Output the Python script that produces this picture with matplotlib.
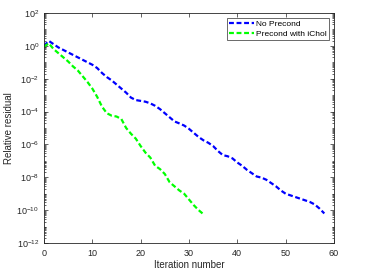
import numpy as np
import matplotlib
matplotlib.use("Agg")
import matplotlib.pyplot as plt
from matplotlib.ticker import LogLocator, FixedLocator, NullFormatter

# log10 of relative residual per iteration
blue_log = [0.0, 0.3, 0.1, -0.1, -0.25, -0.4, -0.55, -0.7, -0.85, -1.0,
            -1.15, -1.35, -1.65, -1.9, -2.1, -2.35, -2.6, -2.85, -3.15, -3.3,
            -3.35, -3.4, -3.5, -3.65, -3.85, -4.1, -4.35, -4.6, -4.72, -4.85,
            -5.05, -5.3, -5.55, -5.75, -5.9, -6.1, -6.4, -6.65, -6.72, -6.85,
            -7.1, -7.3, -7.55, -7.75, -7.95, -8.02, -8.15, -8.35, -8.55, -8.8,
            -9.0, -9.1, -9.2, -9.3, -9.4, -9.5, -9.65, -9.9, -10.2]
green_log = [-0.05, 0.15, -0.2, -0.45, -0.7, -0.95, -1.25, -1.5, -1.85, -2.2,
             -2.6, -3.1, -3.7, -4.1, -4.25, -4.3, -4.45, -5.0, -5.35, -5.65,
             -6.1, -6.5, -6.8, -7.3, -7.5, -7.8, -8.3, -8.55, -8.8, -9.0,
             -9.35, -9.7, -10.0, -10.25]
labels = ["No Precond", "Precond with iChol"]
x_ticks = [0, 10, 20, 30, 40, 50, 60]
y_ticks = [1e2, 1e0, 1e-2, 1e-4, 1e-6, 1e-8, 1e-10, 1e-12]

plt.rcParams['font.family'] = ['Liberation Sans', 'DejaVu Sans']
fig = plt.figure(figsize=(3.65, 2.74), dpi=100)
ax = fig.add_axes([0.1205, 0.1131, 0.915 - 0.1205, 0.9526 - 0.1131])

blue = 10 ** np.array(blue_log)
green = 10 ** np.array(green_log)
ax.semilogy(np.arange(len(blue)), blue, color='#0000ff', ls=(0, (2.2, 1.2)), lw=1.6, label=labels[0])
ax.semilogy(np.arange(len(green)), green, color='#00ff00', ls=(0, (2.2, 1.2)), lw=1.6, label=labels[1])

ax.set_xlim(0, 60)
ax.set_ylim(1e-12, 1e2)
ax.xaxis.set_major_locator(FixedLocator(x_ticks))
ax.yaxis.set_major_locator(FixedLocator(y_ticks))
ax.yaxis.set_minor_locator(LogLocator(base=10, subs=np.arange(1, 10), numticks=100))
ax.yaxis.set_minor_formatter(NullFormatter())
ax.tick_params(which='both', direction='in', top=True, right=True, labelsize=6.5,
               colors='#262626', width=0.5)
ax.tick_params(which='major', length=3)
ax.tick_params(which='minor', length=1.5)
ax.tick_params(axis='x', pad=4)
for s in ax.spines.values():
    s.set_linewidth(0.6)
    s.set_color('#262626')

ax.set_xlabel('Iteration number', fontsize=7, color='#262626', labelpad=2)
ax.set_ylabel('Relative residual', fontsize=7, color='#262626', labelpad=2)

leg = ax.legend(loc='upper right', fontsize=6, frameon=True, fancybox=False,
                edgecolor='#262626', borderpad=0.3, handlelength=3,
                handletextpad=0.2, labelspacing=0.2, borderaxespad=0.6)
leg.get_frame().set_linewidth(0.6)

fig.savefig('out.png', dpi=100)
